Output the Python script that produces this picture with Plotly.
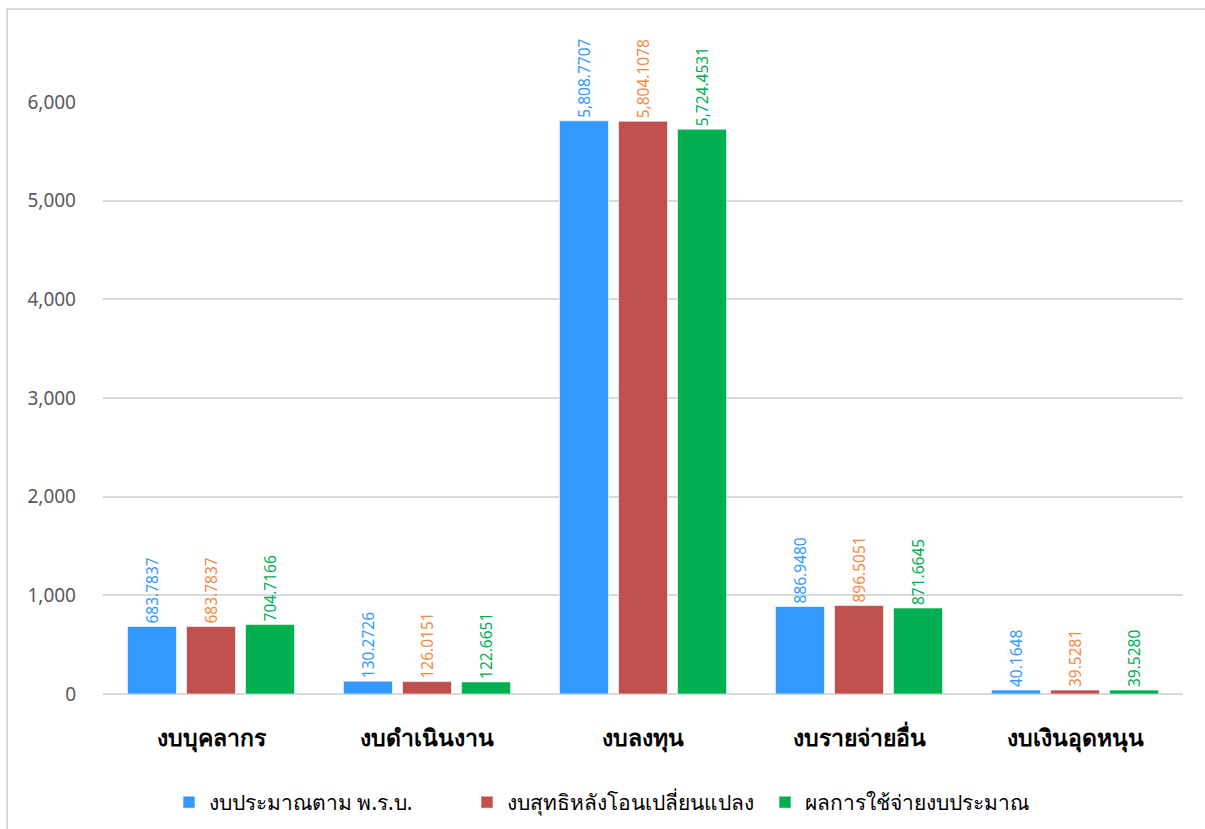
import plotly.graph_objects as go

categories = ["งบบุคลากร", "งบดำเนินงาน", "งบลงทุน", "งบรายจ่ายอื่น", "งบเงินอุดหนุน"]
series_names = ["งบประมาณตาม พ.ร.บ.", "งบสุทธิหลังโอนเปลี่ยนแปลง", "ผลการใช้จ่ายงบประมาณ"]
budget_act = [683.7837, 130.2726, 5808.7707, 886.9480, 40.1648]
budget_net = [683.7837, 126.0151, 5804.1078, 896.5051, 39.5281]
spending = [704.7166, 122.6651, 5724.4531, 871.6645, 39.5280]
y_ticks = [0, 1000, 2000, 3000, 4000, 5000, 6000]

bar_colors = ["#3399FF", "#C0504D", "#00B050"]
label_colors = ["#3399FF", "#F5883F", "#00B050"]
FONT = "Noto Sans, Tahoma, sans-serif"

fig = go.Figure()
for name, vals, bc, lc in zip(series_names, [budget_act, budget_net, spending], bar_colors, label_colors):
    fig.add_trace(go.Bar(
        x=categories, y=vals, name=name,
        marker=dict(color=bc, line=dict(color="rgba(255,255,255,0.6)", width=1)),
        texttemplate="%{y:,.4f}", textposition="outside", textangle=-90,
        constraintext="none",
        textfont=dict(color=lc, size=15.5, family=FONT),
        cliponaxis=False,
    ))

fig.update_layout(
    width=1205, height=829,
    margin=dict(l=103, r=22, t=102, b=135, autoexpand=False),
    paper_bgcolor="white", plot_bgcolor="white",
    barmode="group", bargap=0.18, bargroupgap=0.17,
    font=dict(family=FONT, color="#595959"),
    showlegend=True,
    legend=dict(orientation="h", x=(169 - 103) / 1080, xanchor="left",
                yref="container", y=1 - 782 / 829, yanchor="top",
                font=dict(size=21, color="#000000"),
                entrywidth=253, entrywidthmode="pixels",
                itemwidth=30, traceorder="normal"),
    xaxis=dict(showgrid=False, showline=False, ticks="", automargin=False,
               tickfont=dict(size=23, color="#000000", family=FONT, weight=600),
               ticklabelstandoff=28),
    yaxis=dict(range=[0, 6000], tickvals=y_ticks, tickformat=",d", automargin=False,
               showgrid=True, gridcolor="#D9D9D9", gridwidth=2,
               zeroline=True, zerolinecolor="#D9D9D9", zerolinewidth=2,
               showline=False, ticks="",
               tickfont=dict(size=19, color="#595959", family=FONT),
               ticklabelstandoff=26),
    shapes=[dict(type="rect", xref="paper", yref="paper",
                 x0=(7 - 103) / 1080, x1=1.05, y0=-0.3, y1=(694 - 9) / 592,
                 line=dict(color="#D9D9D9", width=2), fillcolor="rgba(0,0,0,0)", layer="below")],
)

fig.write_html("out.html")
